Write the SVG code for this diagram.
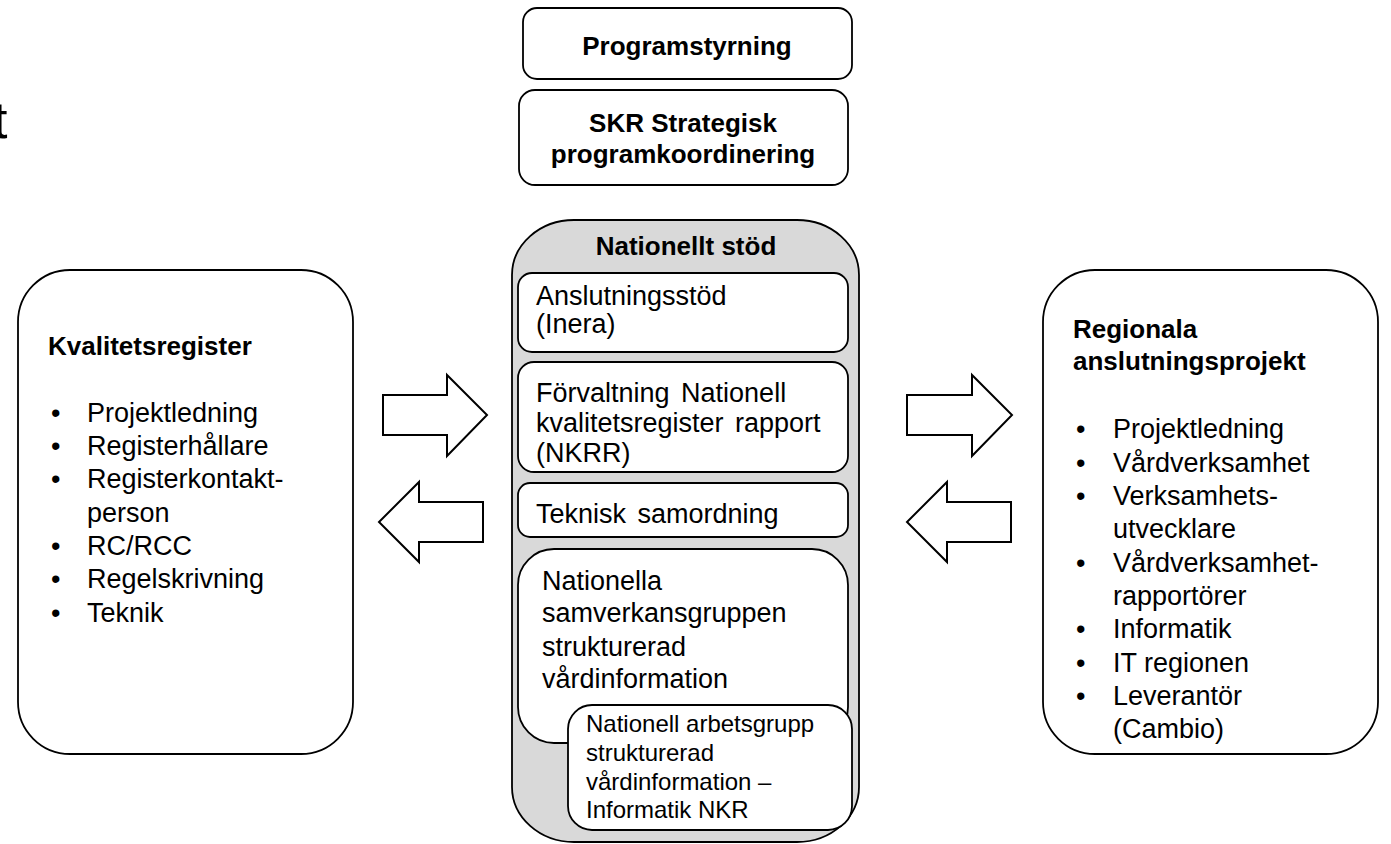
<svg xmlns="http://www.w3.org/2000/svg" width="1391" height="844" viewBox="0 0 1391 844">
<style>
.box{fill:#fff;stroke:#000;stroke-width:1.8}
.outer{fill:#d9d9d9;stroke:#000;stroke-width:1.8}
.arrow{fill:#fff;stroke:#000;stroke-width:2;stroke-linejoin:miter}
text{font-family:"Liberation Sans",Arial,sans-serif;fill:#000}
.b{font-weight:bold;font-size:26px}
.t{font-size:27px}
.s{font-size:24px}
.c{text-anchor:middle}
</style>
<rect width="1391" height="844" fill="#fff"/>
<text x="-7" y="138" style="font-size:52px">t</text>
<g id="programstyrning">
<rect class="box" x="523" y="8" width="329" height="71" rx="14"/>
<text class="b c" x="687" y="55">Programstyrning</text>
</g>
<g id="skr">
<rect class="box" x="519" y="90" width="329" height="95" rx="16"/>
<text class="b c" x="683" y="132">SKR Strategisk</text>
<text class="b c" x="683" y="163">programkoordinering</text>
</g>
<g id="nationellt-stod">
<rect class="outer" x="512" y="220" width="347" height="622" rx="62" ry="55"/>
<text class="b c" x="686" y="255">Nationellt stöd</text>
</g>
<g id="anslutningsstod">
<rect class="box" x="518" y="273" width="330" height="79" rx="14"/>
<text class="t" x="536" y="305">Anslutningsstöd</text>
<text class="t" x="536" y="333">(Inera)</text>
</g>
<g id="forvaltning">
<rect class="box" x="518" y="362" width="330" height="110" rx="16"/>
<text class="t" x="536" y="402" word-spacing="4">Förvaltning Nationell</text>
<text class="t" x="536" y="432" word-spacing="4">kvalitetsregister rapport</text>
<text class="t" x="536" y="462">(NKRR)</text>
</g>
<g id="teknisk">
<rect class="box" x="518" y="483" width="330" height="54" rx="12"/>
<text class="t" x="536" y="523" word-spacing="4">Teknisk samordning</text>
</g>
<g id="nationella">
<rect class="box" x="518" y="549" width="330" height="194" rx="36"/>
<text class="t" x="542" y="590">Nationella</text>
<text class="t" x="542" y="622">samverkansgruppen</text>
<text class="t" x="542" y="656">strukturerad</text>
<text class="t" x="542" y="688">vårdinformation</text>
</g>
<g id="arbetsgrupp">
<rect class="box" x="568" y="705" width="284" height="125" rx="24"/>
<text class="s" x="586" y="732">Nationell arbetsgrupp</text>
<text class="s" x="586" y="761">strukturerad</text>
<text class="s" x="586" y="790">vårdinformation –</text>
<text class="s" x="586" y="818">Informatik NKR</text>
</g>
<g id="kvalitetsregister">
<rect class="box" x="18" y="270" width="335" height="484" rx="52"/>
<text class="b" x="48" y="355">Kvalitetsregister</text>
<g class="t">
<text x="51" y="422">•</text><text x="87" y="422">Projektledning</text>
<text x="51" y="455">•</text><text x="87" y="455">Registerhållare</text>
<text x="51" y="488">•</text><text x="87" y="488">Registerkontakt-</text>
<text x="87" y="522">person</text>
<text x="51" y="555">•</text><text x="87" y="555">RC/RCC</text>
<text x="51" y="588">•</text><text x="87" y="588">Regelskrivning</text>
<text x="51" y="622">•</text><text x="87" y="622">Teknik</text>
</g>
</g>
<g id="regionala">
<rect class="box" x="1043" y="270" width="335" height="484" rx="52"/>
<text class="b" x="1073" y="338">Regionala</text>
<text class="b" x="1073" y="370">anslutningsprojekt</text>
<g class="t">
<text x="1076" y="438">•</text><text x="1113" y="438">Projektledning</text>
<text x="1076" y="472">•</text><text x="1113" y="472">Vårdverksamhet</text>
<text x="1076" y="505">•</text><text x="1113" y="505">Verksamhets-</text>
<text x="1113" y="538">utvecklare</text>
<text x="1076" y="572">•</text><text x="1113" y="572">Vårdverksamhet-</text>
<text x="1113" y="605">rapportörer</text>
<text x="1076" y="638">•</text><text x="1113" y="638">Informatik</text>
<text x="1076" y="672">•</text><text x="1113" y="672">IT regionen</text>
<text x="1076" y="705">•</text><text x="1113" y="705">Leverantör</text>
<text x="1113" y="738">(Cambio)</text>
</g>
</g>
<g id="connectors">
<polygon class="arrow" points="383,395 447,395 447,375 487,415 447,456 447,435 383,435"/>
<polygon class="arrow" points="483,502 419,502 419,482 379,522 419,562 419,542 483,542"/>
<polygon class="arrow" points="907,395 972,395 972,375 1012,415 972,456 972,435 907,435"/>
<polygon class="arrow" points="1011,502 947,502 947,482 907,522 947,562 947,542 1011,542"/>
</g>
</svg>
